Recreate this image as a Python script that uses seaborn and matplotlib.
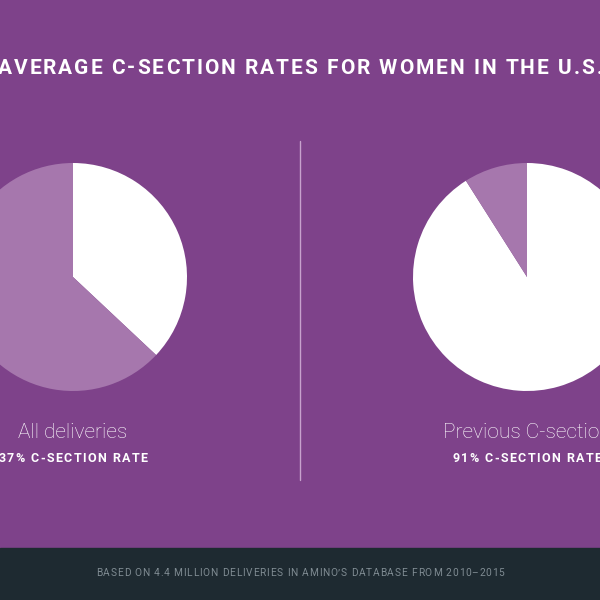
import matplotlib
matplotlib.use("Agg")
import matplotlib.pyplot as plt
import seaborn as sns
from matplotlib.font_manager import FontProperties
from matplotlib.textpath import TextToPath

# data
groups = ["All deliveries", "Previous C-section"]
csection_rates = [37, 91]
rate_labels = ["37% C-SECTION RATE", "91% C-SECTION RATE"]
title = "AVERAGE C-SECTION RATES FOR WOMEN IN THE U.S."
footer = "BASED ON 4.4 MILLION DELIVERIES IN AMINO\u2019S DATABASE FROM 2010\u20132015"

bg = "#7E428A"
light = "#A677AD"
band = "#1E2A31"

sns.set_style("white")
plt.rcParams["font.family"] = ["Roboto", "DejaVu Sans"]

ttp = TextToPath()


def width_px(s, prop):
    w, h, d = ttp.get_text_width_height_descent(s, prop, ismath=False)
    return w * 100 / 72


def tracked(ax, x, y, s, size, weight, color, spacing):
    # letter-spaced text, centred on x
    prop = FontProperties(family="Roboto", size=size, weight=weight)
    base = width_px("|", prop)
    lefts = [width_px(s[:i] + "|", prop) - base + i * spacing for i in range(len(s))]
    total = width_px(s, prop) + spacing * (len(s) - 1)
    x0 = x - total / 2
    for ch, lx in zip(s, lefts):
        ax.text(x0 + lx, y, ch, ha="left", va="center", color=color,
                fontproperties=prop)


fig = plt.figure(figsize=(6, 6), dpi=100, facecolor=bg)
ax = fig.add_axes([0, 0, 1, 1])
ax.set_facecolor(bg)

centers = [73, 527]
for cx, name, rate, lab in zip(centers, groups, csection_rates, rate_labels):
    ax.pie([rate, 100 - rate], colors=["white", light], startangle=90,
           counterclock=False, center=(cx, 323), radius=114, frame=True,
           wedgeprops=dict(linewidth=0))
    ax.text(cx, 167, name, ha="center", va="center", color="white",
            fontsize=15, fontweight="light")
    tracked(ax, cx, 141, lab, 9, "bold", "white", 1.4)

ax.set_xlim(0, 600)
ax.set_ylim(0, 600)
ax.set_aspect("auto")
ax.axis("off")

# divider
ax.plot([300, 300], [120, 459], color="#C7A2CD", lw=1)

# title
tracked(ax, 300, 532, title, 15, "bold", "white", 2.0)

# footer band
ax.add_patch(plt.Rectangle((0, 0), 600, 52, color=band, zorder=0))
tracked(ax, 300, 27, footer, 7.3, "normal", "#7F8B92", 0.8)

fig.savefig("out.png", dpi=100, facecolor=bg)
